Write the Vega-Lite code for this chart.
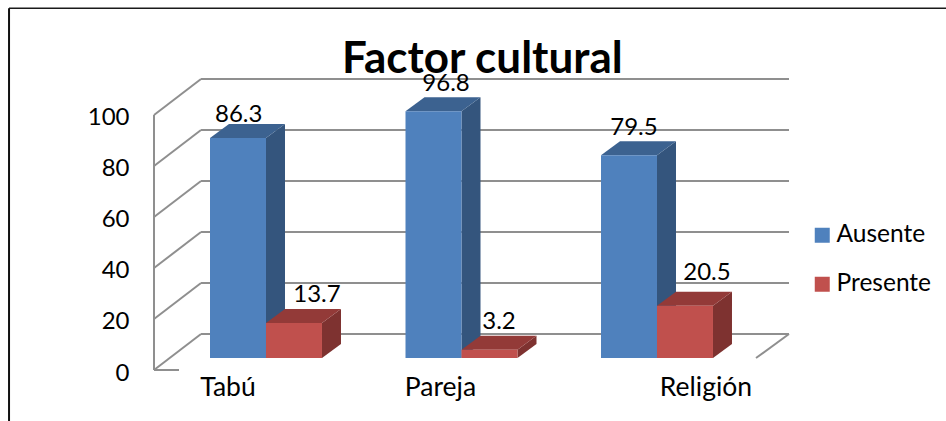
{
"$schema":"https://vega.github.io/schema/vega-lite/v6.json",
"width":946,"height":421,"padding":0,"autosize":{"type":"none"},
"background":"white",
"view":{"stroke":null},
"config":{"font":"Lato","view":{"stroke":null}},
"title":{"text":"Factor cultural","font":"Lato","fontSize":44,"fontWeight":"bold","color":"#000000","anchor":"start","dx":342,"dy":117,"offset":0,"baseline":"alphabetic","frame":"group"},
"data":{"values":[
{"categoria":"Tabú","serie":"Ausente","valor":86.3},
{"categoria":"Tabú","serie":"Presente","valor":13.7},
{"categoria":"Pareja","serie":"Ausente","valor":96.8},
{"categoria":"Pareja","serie":"Presente","valor":3.2},
{"categoria":"Religión","serie":"Ausente","valor":79.5},
{"categoria":"Religión","serie":"Presente","valor":20.5}
]},
"transform":[
{"calculate":"indexof(['Tabú','Pareja','Religión'],datum.categoria)","as":"i"},
{"calculate":"datum.i+(datum.serie==='Presente'?0.2864:0)","as":"xl"},
{"calculate":"datum.xl+0.2864","as":"xr"},
{"calculate":"4.7+datum.valor","as":"tope"},
{"calculate":"datum.categoria+'|'+datum.serie","as":"id"}
],
"layer":[
{"data":{"values":[{"v":0},{"v":20},{"v":40},{"v":60},{"v":80},{"v":100}]},
 "transform":[{"calculate":"datum.v+14.1","as":"vb"},{"calculate":"-0.046","as":"x0"},{"calculate":"2.9616","as":"x1"}],
 "mark":{"type":"rule","color":"#8f8f8f","strokeWidth":2},
 "encoding":{
  "x":{"field":"x0","type":"quantitative","scale":{"domain":[-1.0742,3.7647],"nice":false,"zero":false},"axis":null},
  "x2":{"field":"x1"},
  "y":{"field":"vb","type":"quantitative","scale":{"domain":[-20,145.098],"nice":false,"zero":false},
   "axis":{"title":null,"orient":"left","offset":-154,"values":[0,20,40,60,80,100],"domain":false,"ticks":false,"grid":false,"labelPadding":25,"labelFontSize":24,"labelFont":"Lato","labelColor":"#000000","labelOffset":3}}
 }},
{"data":{"values":[{"v":0},{"v":20},{"v":40},{"v":60},{"v":80},{"v":100}]},
 "transform":[{"calculate":"datum.v+14.1","as":"vb"},{"calculate":"-0.2864","as":"x0"},{"calculate":"-0.046","as":"x1"}],
 "mark":{"type":"rule","color":"#8f8f8f","strokeWidth":2},
 "encoding":{
  "x":{"field":"x0","type":"quantitative","scale":{"domain":[-1.0742,3.7647],"nice":false,"zero":false},"axis":null},
  "x2":{"field":"x1"},
  "y":{"field":"v","type":"quantitative","scale":{"domain":[-20,145.098],"nice":false,"zero":false}},
  "y2":{"field":"vb"}
 }},
{"data":{"values":[{}]},"mark":{"type":"rule","color":"#8f8f8f","strokeWidth":2},
 "encoding":{"x":{"datum":-0.2864,"type":"quantitative","scale":{"domain":[-1.0742,3.7647],"nice":false,"zero":false},"axis":null},
  "y":{"datum":0,"type":"quantitative","scale":{"domain":[-20,145.098],"nice":false,"zero":false}},"y2":{"datum":100}}},
{"data":{"values":[{}]},"mark":{"type":"rule","color":"#8f8f8f","strokeWidth":2},
 "encoding":{"x":{"datum":-0.2864,"type":"quantitative","scale":{"domain":[-1.0742,3.7647],"nice":false,"zero":false},"axis":null},"x2":{"datum":-0.1586},
  "y":{"datum":0,"type":"quantitative","scale":{"domain":[-20,145.098],"nice":false,"zero":false}}}},
{"data":{"values":[{}]},"mark":{"type":"rule","color":"#8f8f8f","strokeWidth":2},
 "encoding":{"x":{"datum":2.9616,"type":"quantitative","scale":{"domain":[-1.0742,3.7647],"nice":false,"zero":false},"axis":null},"x2":{"datum":2.7928},
  "y":{"datum":14.1,"type":"quantitative","scale":{"domain":[-20,145.098],"nice":false,"zero":false}},"y2":{"datum":4.7}}},
{"data":{"values":[{}]},"mark":{"type":"rule","color":"#1a1a1a","strokeWidth":1.5},
 "encoding":{"x":{"datum":-1.028,"type":"quantitative","scale":{"domain":[-1.0742,3.7647],"nice":false,"zero":false},"axis":null},"x2":{"datum":3.7647},
  "y":{"datum":141.9,"type":"quantitative","scale":{"domain":[-20,145.098],"nice":false,"zero":false}}}},
{"data":{"values":[{}]},"mark":{"type":"rule","color":"#111111","strokeWidth":2},
 "encoding":{"x":{"datum":-1.028,"type":"quantitative","scale":{"domain":[-1.0742,3.7647],"nice":false,"zero":false},"axis":null},
  "y":{"datum":141.9,"type":"quantitative","scale":{"domain":[-20,145.098],"nice":false,"zero":false}},"y2":{"datum":-20}}},
{"transform":[
  {"calculate":"[0,1]","as":"t"},{"flatten":["t"]},
  {"calculate":"datum.xr+datum.t*0.0972","as":"px"},
  {"calculate":"4.7+datum.t*5.5","as":"py0"},
  {"calculate":"datum.tope+datum.t*5.5","as":"py1"},
  {"calculate":"datum.serie==='Ausente'?'#34557d':'#7e3230'","as":"tono"}],
 "mark":{"type":"area","line":false,"opacity":1},
 "encoding":{
  "x":{"field":"px","type":"quantitative","scale":{"domain":[-1.0742,3.7647],"nice":false,"zero":false},"axis":null},
  "y":{"field":"py0","type":"quantitative","stack":null,"scale":{"domain":[-20,145.098],"nice":false,"zero":false}},
  "y2":{"field":"py1"},
  "detail":{"field":"id"},
  "color":{"field":"tono","type":"nominal","scale":null,"legend":null}
 }},
{"transform":[
  {"calculate":"[0,1]","as":"t"},{"flatten":["t"]},
  {"calculate":"datum.xl+datum.t*0.0972","as":"px0"},
  {"calculate":"datum.xr+datum.t*0.0972","as":"px1"},
  {"calculate":"datum.tope+datum.t*5.5","as":"py"},
  {"calculate":"datum.serie==='Ausente'?'#3c6290':'#933a38'","as":"tono"}],
 "mark":{"type":"area","orient":"horizontal","line":false,"opacity":1},
 "encoding":{
  "y":{"field":"py","type":"quantitative","scale":{"domain":[-20,145.098],"nice":false,"zero":false}},
  "x":{"field":"px0","type":"quantitative","stack":null,"scale":{"domain":[-1.0742,3.7647],"nice":false,"zero":false},"axis":null},
  "x2":{"field":"px1"},
  "detail":{"field":"id"},
  "color":{"field":"tono","type":"nominal","scale":null,"legend":null}
 }},
{"transform":[{"calculate":"4.7","as":"base"}],
 "mark":{"type":"rect","opacity":1},
 "encoding":{
  "x":{"field":"xl","type":"quantitative","scale":{"domain":[-1.0742,3.7647],"nice":false,"zero":false},"axis":null},
  "x2":{"field":"xr"},
  "y":{"field":"base","type":"quantitative","scale":{"domain":[-20,145.098],"nice":false,"zero":false}},
  "y2":{"field":"tope"},
  "fill":{"field":"serie","type":"nominal","scale":{"domain":["Ausente","Presente"],"range":["#4f81bd","#c0504d"]},
   "legend":{"title":null,"orient":"none","legendX":810,"legendY":223,"symbolType":"square","symbolSize":225,"symbolStrokeWidth":0,"symbolOpacity":1,"labelFont":"Lato","labelFontSize":24.5,"labelColor":"#000000","rowPadding":24,"labelOffset":2,"labelLimit":200}}
 }},
{"transform":[
  {"calculate":"{'Tabú|Ausente':[0.1468,97.25],'Tabú|Presente':[0.5473,26.7],'Pareja|Ausente':[1.2072,109.4],'Pareja|Presente':[1.4783,16.1],'Religión|Ausente':[2.1688,92.2],'Religión|Presente':[2.5422,35.3]}[datum.id]","as":"pos"},
  {"calculate":"datum.pos[0]","as":"lx"},
  {"calculate":"datum.pos[1]","as":"ly"}],
 "mark":{"type":"text","font":"Lato","fontSize":24,"align":"center","baseline":"alphabetic","color":"#000000"},
 "encoding":{
  "x":{"field":"lx","type":"quantitative","scale":{"domain":[-1.0742,3.7647],"nice":false,"zero":false},"axis":null},
  "y":{"field":"ly","type":"quantitative","scale":{"domain":[-20,145.098],"nice":false,"zero":false}},
  "text":{"field":"valor","type":"quantitative","format":".1f"}
 }},
{"transform":[
  {"filter":"datum.serie==='Ausente'"},
  {"calculate":"{'Tabú':0.092,'Pareja':1.179,'Religión':2.537}[datum.categoria]","as":"lx"},
  {"calculate":"-10.2","as":"ly"}],
 "mark":{"type":"text","font":"Lato","fontSize":26.5,"align":"center","baseline":"alphabetic","color":"#000000"},
 "encoding":{
  "x":{"field":"lx","type":"quantitative","scale":{"domain":[-1.0742,3.7647],"nice":false,"zero":false},"axis":null},
  "y":{"field":"ly","type":"quantitative","scale":{"domain":[-20,145.098],"nice":false,"zero":false}},
  "text":{"field":"categoria","type":"nominal"}
 }}
]
}
